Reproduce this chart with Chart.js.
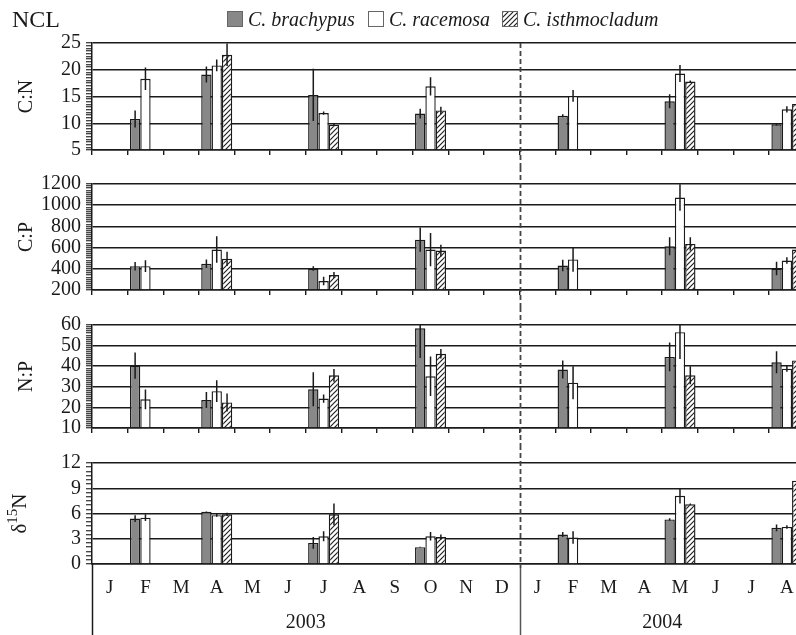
<!DOCTYPE html>
<html>
<head>
<meta charset="utf-8">
<script src="https://cdn.jsdelivr.net/npm/chart.js@4.4.1/dist/chart.umd.min.js"></script>
<style>
  html, body { margin: 0; padding: 0; background: #fff; overflow: hidden; width: 796px; height: 635px; }
  #wrap { position: relative; width: 796px; height: 635px; overflow: hidden; }
  canvas { position: absolute; left: 0; }
</style>
</head>
<body>
<div id="wrap">
  <canvas id="cn" width="830" height="167" style="top:0;width:830px;height:167px"></canvas>
  <canvas id="cp" width="830" height="140" style="top:167px;width:830px;height:140px"></canvas>
  <canvas id="np" width="830" height="138" style="top:307px;width:830px;height:138px"></canvas>
  <canvas id="dn" width="830" height="190" style="top:445px;width:830px;height:190px"></canvas>
</div>
<script>
// Month axis: Jan 2003 – Aug 2004
const months = ['J','F','M','A','M','J','J','A','S','O','N','D','J','F','M','A','M','J','J','A'];
const years = ['2003', '2004'];
const monthsPerYear = [12, 8];
const species = ['C. brachypus', 'C. racemosa', 'C. isthmocladum'];
// Month slots that were sampled: Feb 03, Apr 03, Jul 03, Oct 03, Feb 04, May 04, Aug 04
const sampledSlots = [1, 3, 6, 9, 13, 16, 19];

// C:N (mean, ± error)
const cnBrachypus     = [10.8, 19.1, 15.3, 11.8, 11.4, 14.1, 9.8];
const cnRacemosa      = [18.3, 20.8, 11.9, 16.9, 15.1, 19.3, 12.6];
const cnIsthmocladum  = [null, 22.8, 9.7, 12.4, null, 17.8, 13.6];
const cnBrachypusErr    = [1.6, 1.5, 4.9, 0.9, 0.3, 1.3, 0.2];
const cnRacemosaErr     = [2.1, 1.1, 0.3, 1.7, 1.1, 1.6, 0.6];
const cnIsthmocladumErr = [null, 2.1, 0.2, 0.7, null, 0.2, 0.5];

// C:P
const cpBrachypus     = [425, 447, 403, 675, 431, 612, 403];
const cpRacemosa      = [425, 581, 284, 581, 488, 1072, 478];
const cpIsthmocladum  = [null, 494, 341, 572, null, 635, 581];
const cpBrachypusErr    = [40, 40, 22, 115, 55, 85, 63];
const cpRacemosaErr     = [55, 125, 40, 156, 115, 125, 31];
const cpIsthmocladumErr = [null, 68, 28, 55, null, 62, 40];

// N:P
const npBrachypus     = [40.3, 23.6, 28.8, 58.4, 38.4, 44.5, 41.9];
const npRacemosa      = [23.9, 27.9, 24.3, 35.1, 32.0, 56.5, 38.8];
const npIsthmocladum  = [null, 22.4, 35.6, 46.0, null, 35.6, 42.8];
const npBrachypusErr    = [6.4, 3.9, 8.3, 14.4, 4.4, 7.0, 5.3];
const npRacemosaErr     = [4.8, 5.3, 2.0, 9.6, 8.0, 13.0, 1.5];
const npIsthmocladumErr = [null, 4.4, 3.1, 2.3, null, 4.4, 2.0];

// δ15N
const dnBrachypus     = [5.4, 6.2, 2.5, 2.0, 3.5, 5.3, 4.3];
const dnRacemosa      = [5.5, 5.8, 3.3, 3.3, 3.15, 8.1, 4.4];
const dnIsthmocladum  = [null, 5.9, 5.9, 3.2, null, 7.1, 9.9];
const dnBrachypusErr    = [0.4, 0.05, 0.7, 0.05, 0.3, 0.15, 0.4];
const dnRacemosaErr     = [0.4, 0.2, 0.6, 0.5, 0.75, 0.9, 0.2];
const dnIsthmocladumErr = [null, 0.2, 1.3, 0.3, null, 0.1, 0.2];

// ---- styling ----
const INK = '#1a1a1a';
const GRAY = '#888888';
const SERIF = "'Liberation Serif', 'Times New Roman', serif";
Chart.defaults.font.family = SERIF;
Chart.defaults.color = INK;

function makeHatch() {
  const s = 5;
  const c = document.createElement('canvas');
  c.width = s; c.height = s;
  const g = c.getContext('2d');
  g.fillStyle = '#fff';
  g.fillRect(0, 0, s, s);
  g.strokeStyle = '#222';
  g.lineWidth = 1.2;
  g.beginPath();
  g.moveTo(0, s); g.lineTo(s, 0);
  g.moveTo(-1, 1); g.lineTo(1, -1);
  g.moveTo(s - 1, s + 1); g.lineTo(s + 1, s - 1);
  g.stroke();
  return g.createPattern(c, 'repeat');
}
const HATCH = makeHatch();
const fills = [GRAY, '#ffffff', HATCH];

// place the sampled values on the full month axis
function spread(vals) {
  const out = months.map(() => null);
  sampledSlots.forEach((slot, k) => { out[slot] = vals[k]; });
  return out;
}

function boundaryPixel(xs, idx) {
  // pixel of the border between month idx and idx+1 (idx may be -1 or last)
  const w = (xs.right - xs.left) / months.length;
  return xs.left + (idx + 1) * w;
}

// vertical error bars from the dataset error arrays
function errorBarPlugin(errSets) {
  return {
    id: 'errorBars',
    afterDatasetsDraw(chart) {
      const { ctx, chartArea } = chart;
      ctx.save();
      ctx.beginPath();
      ctx.rect(chartArea.left, chartArea.top - 1, chartArea.right - chartArea.left, chartArea.bottom - chartArea.top + 1);
      ctx.clip();
      ctx.strokeStyle = INK;
      ctx.lineWidth = 1.5;
      chart.data.datasets.forEach((ds, i) => {
        const meta = chart.getDatasetMeta(i);
        const ys = chart.scales[meta.yAxisID];
        const errs = errSets[i];
        ds.data.forEach((v, j) => {
          const e = errs[j];
          if (v == null || e == null) return;
          const x = meta.data[j].x;
          ctx.beginPath();
          ctx.moveTo(x, ys.getPixelForValue(v + e));
          ctx.lineTo(x, ys.getPixelForValue(v - e));
          ctx.stroke();
        });
      });
      ctx.restore();
    }
  };
}

// dashed divider between the two years
function dividerPlugin(fromChartTop, toChartBottom) {
  return {
    id: 'yearDivider',
    afterDraw(chart) {
      const { ctx, chartArea } = chart;
      const xs = chart.scales.x;
      const x = Math.round(boundaryPixel(xs, monthsPerYear[0] - 1)) + 0.5;
      const y0 = fromChartTop ? chartArea.top : 0;
      const y1 = toChartBottom ? chartArea.bottom + 4 : chart.height;
      ctx.save();
      ctx.strokeStyle = '#444';
      ctx.lineWidth = 1.8;
      ctx.setLineDash([5, 3]);
      ctx.beginPath();
      ctx.moveTo(x, y0);
      ctx.lineTo(x, y1);
      ctx.stroke();
      ctx.restore();
    }
  };
}

const headerPlugin = {
  id: 'header',
  afterDraw(chart) {
    const ctx = chart.ctx;
    ctx.save();
    ctx.fillStyle = INK;
    ctx.textBaseline = 'alphabetic';
    ctx.textAlign = 'left';
    ctx.font = '24px ' + SERIF;
    ctx.fillText('NCL', 12, 27);
    const items = [{ x: 227 }, { x: 368 }, { x: 502 }];
    ctx.font = 'italic 20px ' + SERIF;
    items.forEach((it, k) => {
      ctx.fillStyle = fills[k];
      ctx.fillRect(it.x, 11, 16, 16);
      ctx.strokeStyle = '#666';
      ctx.lineWidth = 1;
      ctx.strokeRect(it.x + 0.5, 11.5, 15, 15);
      ctx.fillStyle = INK;
      ctx.fillText(species[k], it.x + 21, 26);
    });
    ctx.restore();
  }
};

const yearAxisPlugin = {
  id: 'yearAxis',
  afterDraw(chart) {
    const { ctx, chartArea } = chart;
    const xs = chart.scales.x;
    ctx.save();
    ctx.strokeStyle = INK;
    ctx.lineWidth = 1.5;
    let start = -1;
    const edges = [start];
    monthsPerYear.forEach(n => { start += n; edges.push(start); });
    edges.forEach((e, k) => {
      if (k === 1) return; // drawn with the divider below
      const x = Math.round(boundaryPixel(xs, e)) + 0.5;
      ctx.beginPath();
      ctx.moveTo(x, chartArea.bottom);
      ctx.lineTo(x, chart.height);
      ctx.stroke();
    });
    const mid = Math.round(boundaryPixel(xs, edges[1])) + 0.5;
    ctx.strokeStyle = '#555';
    ctx.beginPath();
    ctx.moveTo(mid, chartArea.bottom + 4);
    ctx.lineTo(mid, chart.height);
    ctx.stroke();

    ctx.fillStyle = INK;
    ctx.font = '20px ' + SERIF;
    ctx.textAlign = 'center';
    ctx.textBaseline = 'middle';
    years.forEach((yr, k) => {
      const cx = (boundaryPixel(xs, edges[k]) + boundaryPixel(xs, edges[k + 1])) / 2;
      ctx.fillText(yr, cx, chart.height - 12);
    });

    // δ15N axis title
    const cy = (chartArea.top + chartArea.bottom) / 2;
    ctx.translate(26, cy);
    ctx.rotate(-Math.PI / 2);
    ctx.textAlign = 'left';
    ctx.textBaseline = 'alphabetic';
    const big = '21px ' + SERIF, small = '15px ' + SERIF;
    ctx.font = big;
    const wD = ctx.measureText('δ').width, wN = ctx.measureText('N').width;
    ctx.font = small;
    const w15 = ctx.measureText('15').width;
    let x = -(wD + w15 + wN) / 2;
    ctx.font = big;
    ctx.fillText('δ', x, 0); x += wD;
    ctx.font = small;
    ctx.fillText('15', x, -9); x += w15;
    ctx.font = big;
    ctx.fillText('N', x, 0);
    ctx.restore();
  }
};

function isMajor(v, major) {
  const r = v / major;
  return Math.abs(r - Math.round(r)) < 1e-6;
}

function buildPanel(canvasId, p) {
  const errSets = p.errors.map(spread);
  const plugins = [errorBarPlugin(errSets), dividerPlugin(p.first, p.last)];
  if (p.first) plugins.push(headerPlugin);
  if (p.last) plugins.push(yearAxisPlugin);
  return new Chart(document.getElementById(canvasId), {
    type: 'bar',
    data: {
      labels: months,
      datasets: species.map((name, k) => ({
        label: name,
        data: spread(p.values[k]),
        backgroundColor: fills[k],
        borderColor: INK,
        borderWidth: 1.4,
        base: p.min,
        categoryPercentage: 0.87,
        barPercentage: 1.0
      }))
    },
    options: {
      responsive: false,
      animation: false,
      devicePixelRatio: 1,
      layout: { padding: { top: p.padTop, right: 25.3, left: 0, bottom: 0 } },
      plugins: { legend: { display: false }, tooltip: { enabled: false } },
      scales: {
        x: {
          type: 'category',
          offset: true,
          grid: {
            offset: true,
            drawOnChartArea: false,
            drawTicks: !p.last,
            tickLength: 5,
            color: INK,
            lineWidth: 1.4
          },
          border: { display: true, color: INK, width: 1.5 },
          ticks: {
            display: !!p.last,
            autoSkip: false,
            maxRotation: 0,
            padding: 13,
            font: { size: 19 },
            color: INK
          },
          afterFit: s => { s.height = p.axisH; }
        },
        y: {
          min: p.min,
          max: p.max,
          ticks: {
            stepSize: p.minor,
            autoSkip: false,
            padding: 5,
            font: { size: 20 },
            color: INK,
            callback: v => isMajor(v, p.major) ? String(Math.round(v)) : ''
          },
          grid: {
            color: c => (c.tick && isMajor(c.tick.value, p.major)) ? INK : 'rgba(0,0,0,0)',
            tickColor: INK,
            tickLength: 6,
            tickWidth: 1.1,
            lineWidth: 1.5
          },
          border: { display: true, color: INK, width: 1.5 },
          title: {
            display: !p.last,
            text: p.title,
            font: { size: 20 },
            color: INK,
            padding: { top: 15, bottom: 0 }
          },
          afterFit: s => { s.width = 92; }
        }
      }
    },
    plugins
  });
}

buildPanel('cn', {
  title: 'C:N', min: 5, max: 25, major: 5, minor: 0.5,
  values: [cnBrachypus, cnRacemosa, cnIsthmocladum],
  errors: [cnBrachypusErr, cnRacemosaErr, cnIsthmocladumErr],
  padTop: 43, axisH: 17, first: true, last: false
});
buildPanel('cp', {
  title: 'C:P', min: 200, max: 1200, major: 200, minor: 20,
  values: [cpBrachypus, cpRacemosa, cpIsthmocladum],
  errors: [cpBrachypusErr, cpRacemosaErr, cpIsthmocladumErr],
  padTop: 17, axisH: 16, first: false, last: false
});
buildPanel('np', {
  title: 'N:P', min: 10, max: 60, major: 10, minor: 1,
  values: [npBrachypus, npRacemosa, npIsthmocladum],
  errors: [npBrachypusErr, npRacemosaErr, npIsthmocladumErr],
  padTop: 18, axisH: 16, first: false, last: false
});
buildPanel('dn', {
  title: 'δ15N', min: 0, max: 12, major: 3, minor: 0.5,
  values: [dnBrachypus, dnRacemosa, dnIsthmocladum],
  errors: [dnBrachypusErr, dnRacemosaErr, dnIsthmocladumErr],
  padTop: 18, axisH: 71, first: false, last: true
});
</script>
</body>
</html>
